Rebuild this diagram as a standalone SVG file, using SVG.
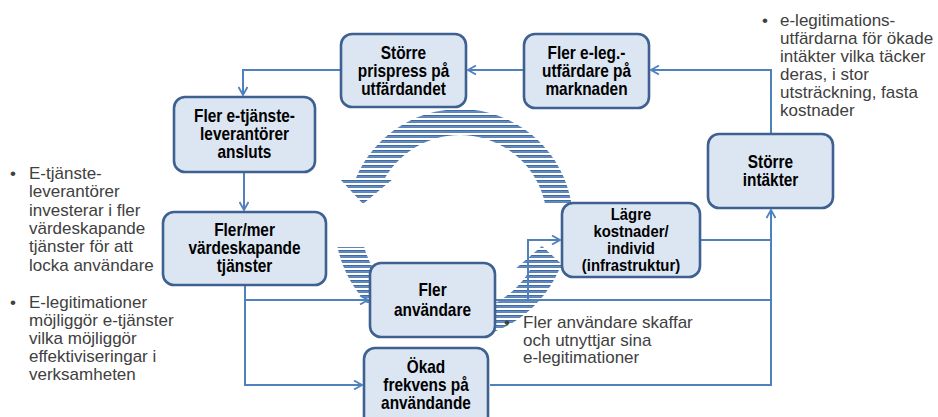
<svg xmlns="http://www.w3.org/2000/svg" width="938" height="417" viewBox="0 0 938 417">
<defs>
<style>
.node rect{fill:#DCE6F2;stroke:#3F6191;stroke-width:2.6}
.node text{font-family:"Liberation Sans",Arial,sans-serif;font-weight:bold;font-size:17.5px;fill:#000;text-anchor:middle;transform-box:fill-box;transform-origin:center;transform:scaleX(0.88)}
#n-kostnader text{font-size:16px;transform:scaleX(0.93)}
.conn path{fill:none;stroke:#4F81BD;stroke-width:2}
.note{font-family:"Liberation Sans",Arial,sans-serif;font-size:17px;fill:#404040}
.arc{fill:url(#stripes)}
</style>
<pattern id="stripes" patternUnits="userSpaceOnUse" width="20" height="5">
<rect x="0" y="0" width="20" height="2.8" fill="#3A66A0"/>
<rect x="0" y="0.9" width="20" height="1" fill="#6690C8"/>
</pattern>
<marker id="arr" viewBox="0 0 10 10" refX="9" refY="5" markerWidth="10" markerHeight="10" markerUnits="userSpaceOnUse" orient="auto">
<path d="M1,0.5 L9,5 L1,9.5" fill="none" stroke="#4F81BD" stroke-width="1.8"/>
</marker>
</defs>
<rect width="938" height="417" fill="#fff"/>

<g id="cycle-arrows">
<path class="arc" d="M 571.4 203 A 113 113 0 0 0 355.5 179 L 340 179 L 363 204 L 393 179 L 384.4 179 A 87 87 0 0 1 544.9 203 Z"/>
<path class="arc" d="M 337.5 247 A 117 117 0 0 0 559 270 L 568 270 L 542 246 L 514 270 L 530 270 A 91 91 0 0 1 364.2 247 Z"/>
</g>

<g id="connectors" class="conn">
<path d="M 771 134 V 70 H 651" marker-end="url(#arr)"/>
<path d="M 524 70 H 468" marker-end="url(#arr)"/>
<path d="M 341 70 H 243 V 95" marker-end="url(#arr)"/>
<path d="M 244 172 V 210" marker-end="url(#arr)"/>
<path d="M 245 285 V 385 H 362" marker-end="url(#arr)"/>
<path d="M 245 300 H 368" marker-end="url(#arr)"/>
<path d="M 495 300 H 771"/>
<path d="M 528 300 V 240 H 560" marker-end="url(#arr)"/>
<path d="M 700 240 H 771"/>
<path d="M 490 385 H 771 V 210" marker-end="url(#arr)"/>
</g>

<g id="n-prispress" class="node">
<rect x="341" y="34" width="125" height="73" rx="11"/>
<text x="403.5" y="59">Större</text>
<text x="403.5" y="77">prispress på</text>
<text x="403.5" y="95">utfärdandet</text>
</g>
<g id="n-utfardare" class="node">
<rect x="524" y="34" width="125" height="74" rx="11"/>
<text x="586.5" y="59">Fler e-leg.-</text>
<text x="586.5" y="77">utfärdare på</text>
<text x="586.5" y="95">marknaden</text>
</g>
<g id="n-leverantorer" class="node">
<rect x="174" y="97" width="141" height="75" rx="11"/>
<text x="244.5" y="122">Fler e-tjänste-</text>
<text x="244.5" y="140">leverantörer</text>
<text x="244.5" y="158">ansluts</text>
</g>
<g id="n-intakter" class="node">
<rect x="708" y="134" width="125" height="74" rx="11"/>
<text x="770.5" y="168">Större</text>
<text x="770.5" y="186">intäkter</text>
</g>
<g id="n-tjanster" class="node">
<rect x="163" y="212" width="163" height="73" rx="11"/>
<text x="244.5" y="236">Fler/mer</text>
<text x="244.5" y="254">värdeskapande</text>
<text x="244.5" y="272">tjänster</text>
</g>
<g id="n-kostnader" class="node">
<rect x="562" y="203" width="138" height="74" rx="11"/>
<text x="631" y="220">Lägre</text>
<text x="631" y="237">kostnader/</text>
<text x="631" y="254">individ</text>
<text x="631" y="271">(infrastruktur)</text>
</g>
<g id="n-anvandare" class="node">
<rect x="370" y="263" width="125" height="74" rx="11"/>
<text x="432.5" y="296">Fler</text>
<text x="432.5" y="316">användare</text>
</g>
<g id="n-frekvens" class="node">
<rect x="364" y="348" width="124" height="80" rx="11"/>
<text x="426" y="373">Ökad</text>
<text x="426" y="391">frekvens på</text>
<text x="426" y="409">användande</text>
</g>

<g id="notes">
<text class="note" x="10" y="179">•</text>
<text class="note" x="29" y="179">E-tjänste-</text>
<text class="note" x="29" y="197.3">leverantörer</text>
<text class="note" x="29" y="215.6">investerar i fler</text>
<text class="note" x="29" y="234">värdeskapande</text>
<text class="note" x="29" y="252.3">tjänster för att</text>
<text class="note" x="29" y="270.6">locka användare</text>

<text class="note" x="10" y="308">•</text>
<text class="note" x="29" y="308">E-legitimationer</text>
<text class="note" x="29" y="326">möjliggör e-tjänster</text>
<text class="note" x="29" y="344">vilka möjliggör</text>
<text class="note" x="29" y="362">effektiviseringar i</text>
<text class="note" x="29" y="380">verksamheten</text>

<text class="note" x="762" y="26">•</text>
<text class="note" x="780" y="26">e-legitimations-</text>
<text class="note" x="780" y="44">utfärdarna för ökade</text>
<text class="note" x="780" y="62">intäkter vilka täcker</text>
<text class="note" x="780" y="80">deras, i stor</text>
<text class="note" x="780" y="98">utsträckning, fasta</text>
<text class="note" x="780" y="116">kostnader</text>

<text class="note" x="504" y="328">•</text>
<text class="note" x="523" y="328">Fler användare skaffar</text>
<text class="note" x="523" y="345.5">och utnyttjar sina</text>
<text class="note" x="523" y="363">e-legitimationer</text>
</g>
</svg>
